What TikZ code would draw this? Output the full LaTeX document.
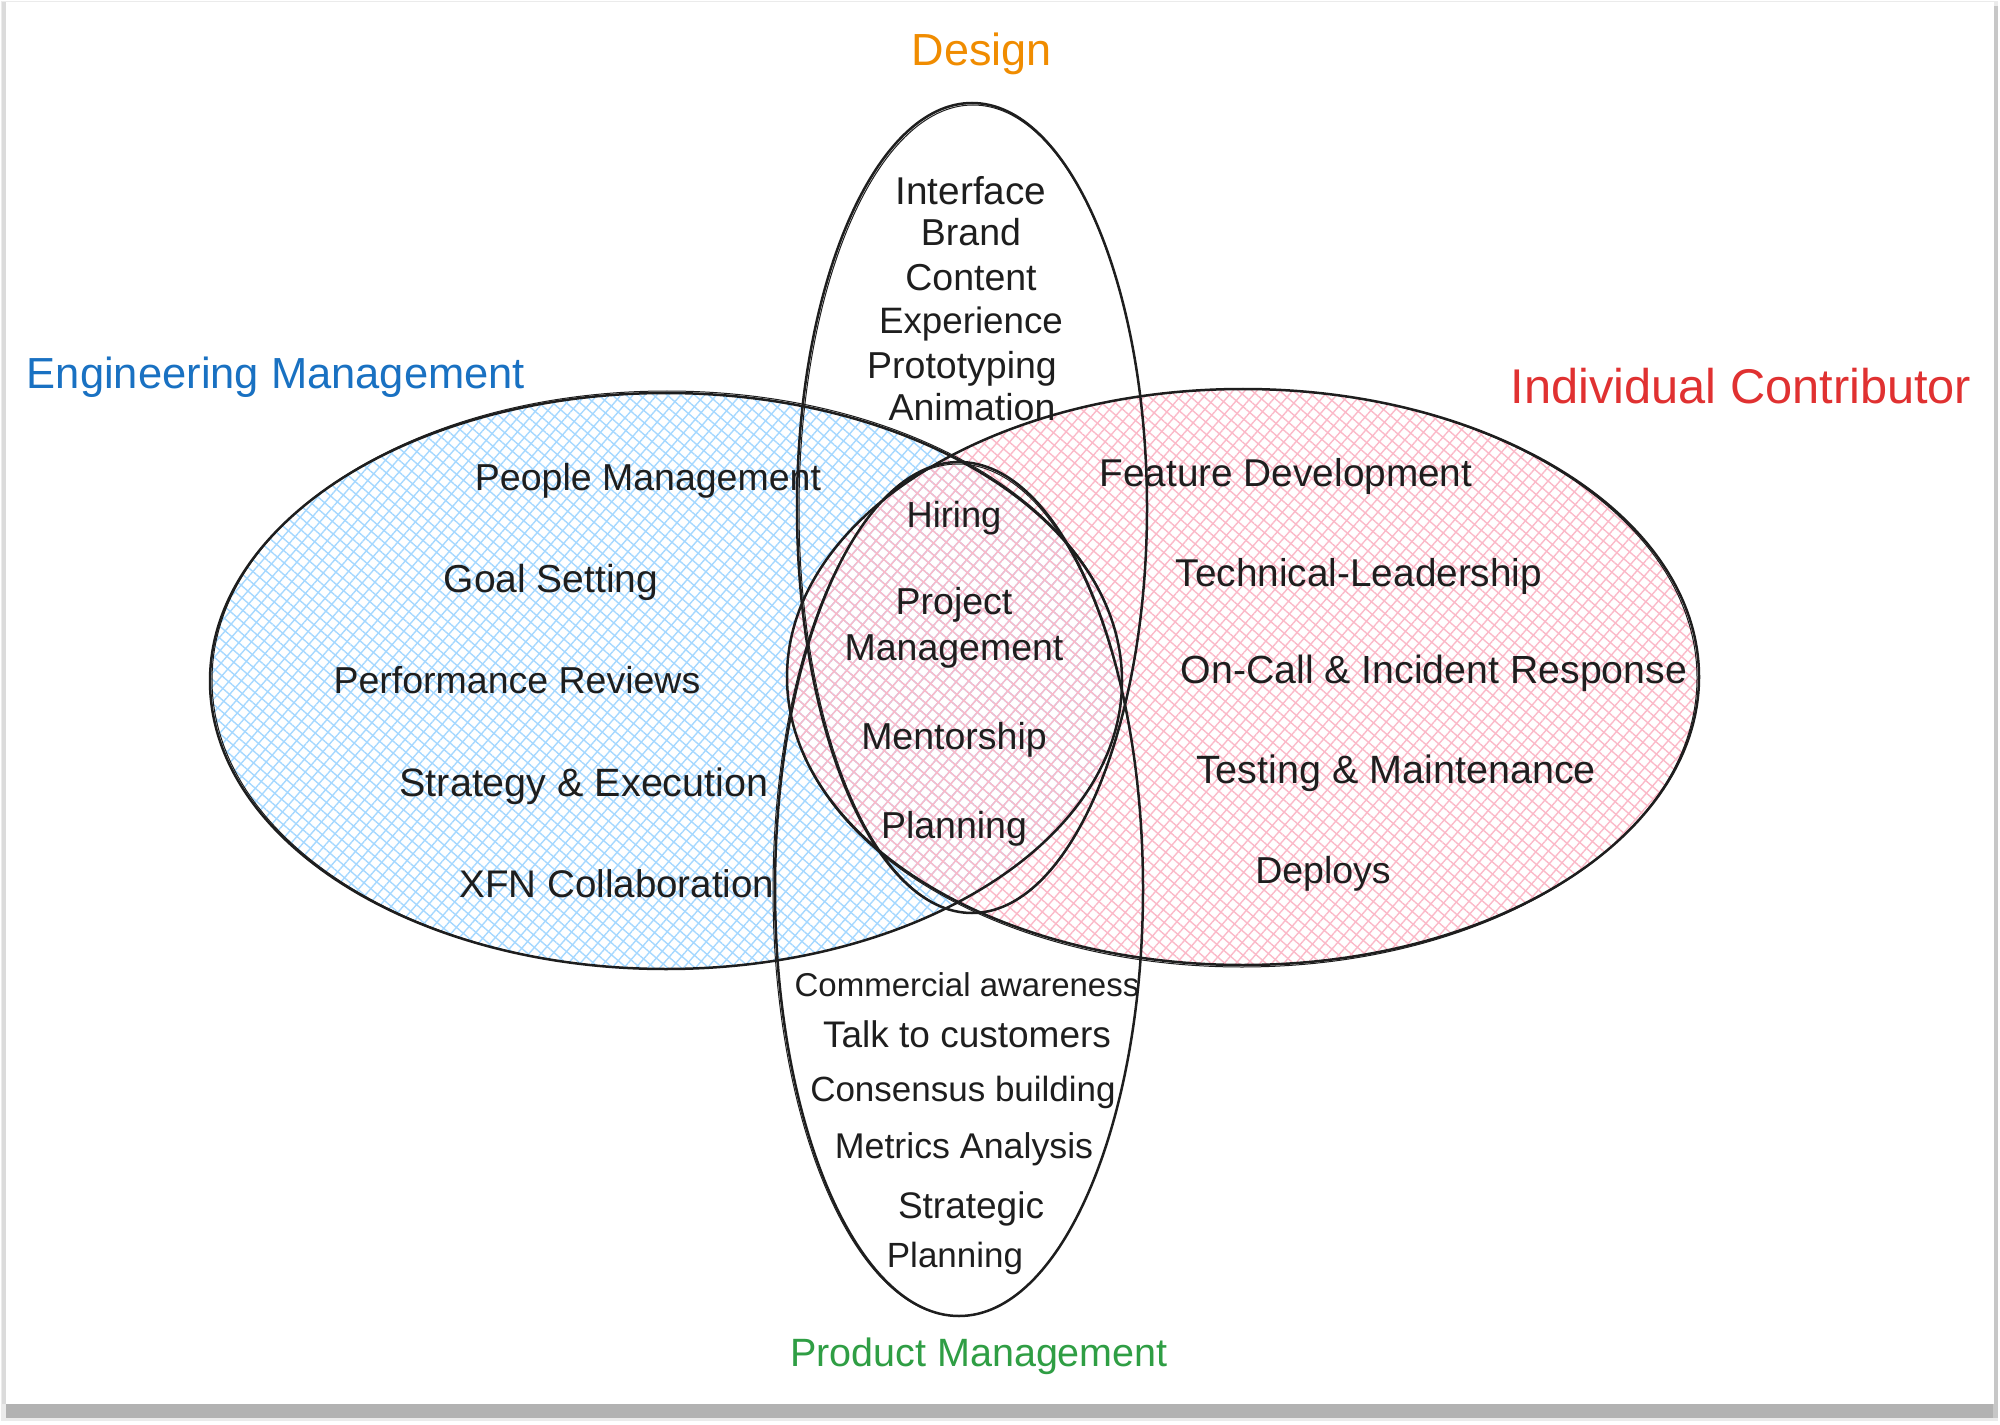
\documentclass[tikz,border=0pt]{standalone}
\usepackage{fontspec}
\setmainfont{Liberation Sans}
\usetikzlibrary{patterns.meta}
\definecolor{emblue}{HTML}{1971C2}
\definecolor{icred}{HTML}{E03131}
\definecolor{dorange}{HTML}{F08C00}
\definecolor{pmgreen}{HTML}{2F9E44}
\definecolor{hblue}{HTML}{A5D8FF}
\definecolor{hpink}{HTML}{FBB9C8}
\definecolor{ink}{HTML}{1E1E1E}
\begin{document}
\begin{tikzpicture}[x=0.4pt,y=-0.4pt,
  txt/.style={inner sep=0pt, text=ink, text height=1.5ex, text depth=.25ex, yshift=-2pt, font=\fontsize{15}{18}\selectfont},
  fs/.style={font=\fontsize{#1}{#1}\selectfont},
  title/.style={inner sep=0pt, text height=1.5ex, text depth=.25ex, yshift=-2.5pt, font=\fontsize{18}{22}\selectfont},
  hatchA/.style={pattern={Lines[angle=49,distance=3.6pt,line width=0.55pt]}},
  hatchB/.style={pattern={Lines[angle=-41,distance=3.6pt,line width=0.55pt]}},
  outline/.style={draw=ink, line width=1pt},
  outline2/.style={draw=ink, line width=0.4pt}]
\useasboundingbox (0,0) rectangle (2000,1425);
% card with shadow
\fill[white] (0,0) rectangle (2000,1425);
\fill[black!8] (1,1) rectangle (1998,1421);
\fill[black!30] (6,1403) rectangle (1997,1418);
\fill[black!22] (1993,6) rectangle (1998,1418);
\fill[black!14] (2,2) rectangle (6,1404);
\fill[white] (6,2) rectangle (1994,1404);
% hatched fills
\path[hatchA, pattern color=hblue] (666,681) ellipse [x radius=456, y radius=288];
\path[hatchB, pattern color=hblue] (666,681) ellipse [x radius=456, y radius=288];
\path[hatchA, pattern color=hpink] (1243,677) ellipse [x radius=456, y radius=288];
\path[hatchB, pattern color=hpink] (1243,677) ellipse [x radius=456, y radius=288];
% outlines
\draw[outline] (666,681) ellipse [x radius=456, y radius=288];
\draw[outline2] (667,680) ellipse [x radius=455, y radius=289];
\draw[outline] (1243,677) ellipse [x radius=456, y radius=288];
\draw[outline2] (1242,678) ellipse [x radius=455, y radius=289];
\draw[outline] (972,508) ellipse [x radius=175, y radius=405];
\draw[outline2] (973,509) ellipse [x radius=174, y radius=404];
\draw[outline] (959,889) ellipse [x radius=184, y radius=427];
\draw[outline2] (958,890) ellipse [x radius=185, y radius=426];
% titles
\node[title, text=dorange] (tDesign) at (982,51) {Design};
\node[title, text=emblue, fs=17.4] (tEM) at (276,374) {Engineering Management};
\node[title, text=icred, fs=19.5] (tIC) at (1741,389) {Individual Contributor};
\node[title, text=pmgreen, fs=15.8] (tPM) at (979,1352) {Product Management};
% design list
\node[txt, fs=15.5] (d1) at (971,191) {Interface};
\node[txt] (d2) at (971,232) {Brand};
\node[txt] (d3) at (971,277) {Content};
\node[txt, fs=14.7] (d4) at (971,320) {Experience};
\node[txt] (d5) at (962,365) {Prototyping};
\node[txt] (d6) at (972,407) {Animation};
% engineering management list
\node[txt] (e1) at (648,477) {People Management};
\node[txt, fs=15.6] (e2) at (551,579) {Goal Setting};
\node[txt] (e3) at (517,680) {Performance Reviews};
\node[txt, fs=15.8] (e4) at (584,783) {Strategy \& Execution};
\node[txt, fs=15.4] (e5) at (617,884) {XFN Collaboration};
% individual contributor list
\node[txt, fs=15.5] (i1) at (1286,473) {Feature Development};
\node[txt, fs=15.5] (i2) at (1359,573) {Technical-Leadership};
\node[txt, fs=15.7] (i3) at (1434,670) {On-Call \& Incident Response};
\node[txt, fs=15.8] (i4) at (1396,770) {Testing \& Maintenance};
\node[txt] (i5) at (1323,870) {Deploys};
% shared centre
\node[txt, fs=14.5] (c1) at (954,514) {Hiring};
\node[txt] (c2) at (954,601) {Project};
\node[txt] (c3) at (954,647) {Management};
\node[txt] (c4) at (954,736) {Mentorship};
\node[txt] (c5) at (954,825) {Planning};
% product management list
\node[txt, fs=13.2] (p1) at (967,983) {Commercial awareness};
\node[txt, fs=14.8] (p2) at (967,1034) {Talk to customers};
\node[txt, fs=14] (p3) at (963,1088) {Consensus building};
\node[txt, fs=14.3] (p4) at (964,1145) {Metrics Analysis};
\node[txt, fs=14.8] (p5) at (971,1205) {Strategic};
\node[txt, fs=14] (p6) at (955,1254) {Planning};
\end{tikzpicture}
\end{document}
